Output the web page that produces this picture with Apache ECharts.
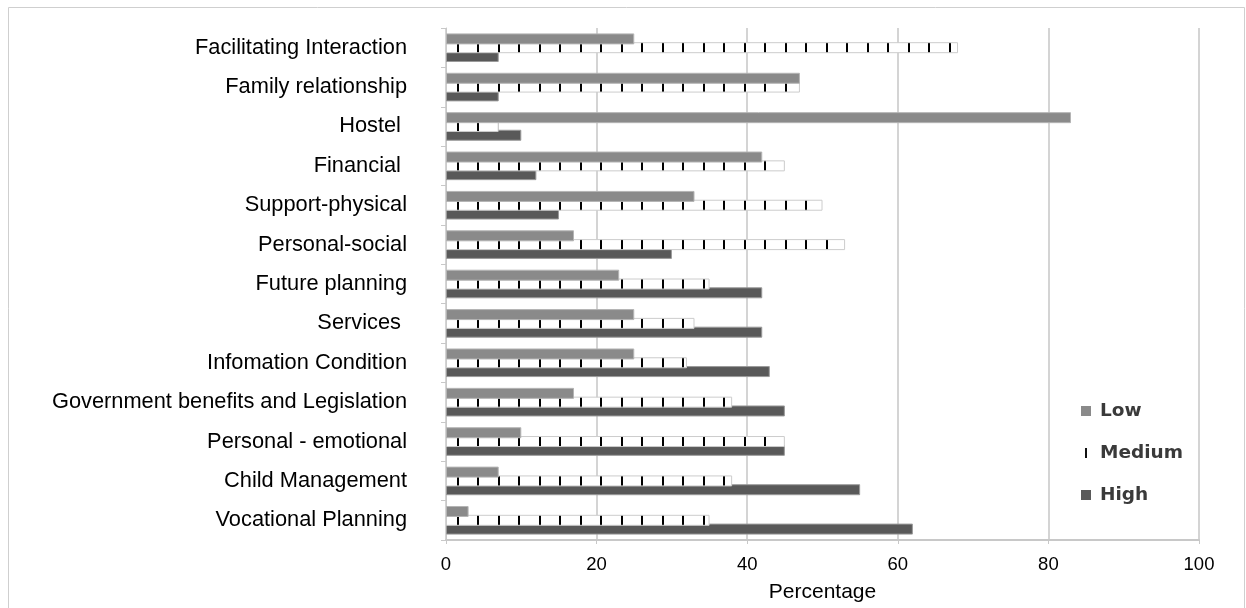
<!DOCTYPE html>
<html>
<head>
<meta charset="utf-8">
<script src="https://cdn.jsdelivr.net/npm/echarts@6/dist/echarts.min.js"></script>
<style>
html,body{margin:0;padding:0;background:#fff;}
#chart{width:1246px;height:608px;}
</style>
</head>
<body>
<div id="chart"></div>
<script>
// ---- data ----
const categories = [
  'Facilitating Interaction',
  'Family relationship',
  'Hostel ',
  'Financial ',
  'Support-physical',
  'Personal-social',
  'Future planning',
  'Services ',
  'Infomation Condition',
  'Government benefits and Legislation',
  'Personal - emotional',
  'Child Management',
  'Vocational Planning'
];
const lowValues    = [25, 47, 83, 42, 33, 17, 23, 25, 25, 17, 10, 7, 3];
const mediumValues = [68, 47, 7, 45, 50, 53, 35, 33, 32, 38, 45, 38, 35];
const highValues   = [7, 7, 10, 12, 15, 30, 42, 42, 43, 45, 45, 55, 62];
const xTicks = [0, 20, 40, 60, 80, 100];
const seriesNames = ['Low', 'Medium', 'High'];

// ---- pattern for "Medium" (white bar with vertical black ticks) ----
const pc = document.createElement('canvas');
pc.width = 41; pc.height = 4;
const pctx = pc.getContext('2d');
pctx.fillStyle = '#ffffff';
pctx.fillRect(0, 0, 41, 4);
pctx.fillStyle = '#000000';
pctx.fillRect(6, 0, 2, 4);
pctx.fillRect(26, 0, 2, 4);

const chart = echarts.init(document.getElementById('chart'), null, {renderer: 'canvas'});
const FONT = '"Liberation Sans", Arial, sans-serif';

const option = {
  animation: false,
  backgroundColor: '#ffffff',
  graphic: [{
    type: 'rect',
    shape: {x: 8.5, y: 7.5, width: 1236, height: 620},
    style: {fill: 'none', stroke: '#cfcfcf', lineWidth: 1},
    silent: true, z: -1
  }],
  grid: {left: 446, right: 47, top: 28, bottom: 68, containLabel: false},
  legend: {
    orient: 'vertical',
    left: 1081,
    top: 401,
    padding: 0,
    itemWidth: 10,
    itemHeight: 10,
    itemGap: 22,
    textStyle: {fontFamily: '"DejaVu Sans", sans-serif', fontSize: 18.5, lineHeight: 20,
                color: '#3a3a3a', fontWeight: 'bold', padding: [0, 0, 0, 4]},
    data: [
      {name: 'Low', icon: 'rect', itemStyle: {color: '#8a8a8a', borderWidth: 0}},
      {name: 'Medium', icon: 'path://M7,0 L9,0 L9,10 L7,10 Z', itemStyle: {color: '#111', borderWidth: 0}},
      {name: 'High', icon: 'rect', itemStyle: {color: '#5a5a5a', borderWidth: 0}}
    ]
  },
  xAxis: {
    type: 'value',
    min: xTicks[0],
    max: xTicks[xTicks.length - 1],
    interval: 20,
    name: 'Percentage',
    nameLocation: 'middle',
    nameGap: 42,
    nameTextStyle: {fontFamily: FONT, fontSize: 21, color: '#000'},
    axisLine: {show: true, lineStyle: {color: '#c8c8c8', width: 2}},
    axisTick: {show: true, length: 4, lineStyle: {color: '#c8c8c8'}},
    axisLabel: {fontFamily: FONT, fontSize: 18.5, color: '#000', margin: 15},
    splitLine: {show: true, lineStyle: {color: '#d4d4d4', width: 2}}
  },
  yAxis: {
    type: 'category',
    inverse: true,
    data: categories,
    axisLine: {show: true, lineStyle: {color: '#c8c8c8', width: 1}},
    axisTick: {show: true, length: 5, lineStyle: {color: '#c8c8c8'}},
    axisLabel: {fontFamily: FONT, fontSize: 21.8, color: '#000', margin: 39}
  },
  series: [
    {
      name: seriesNames[0], type: 'bar', data: lowValues,
      barWidth: 11, barGap: '-20%', z: 4,
      itemStyle: {color: '#8a8a8a', borderColor: '#b4b4b4', borderWidth: 1}
    },
    {
      name: seriesNames[1], type: 'bar', data: mediumValues,
      barWidth: 11, barGap: '-20%', z: 3,
      itemStyle: {color: {image: pc, repeat: 'repeat'}, borderColor: '#cccccc', borderWidth: 1}
    },
    {
      name: seriesNames[2], type: 'bar', data: highValues,
      barWidth: 11, barGap: '-20%', z: 2,
      itemStyle: {color: '#595959', borderColor: '#9a9a9a', borderWidth: 1}
    }
  ]
};
chart.setOption(option);
</script>
</body>
</html>
